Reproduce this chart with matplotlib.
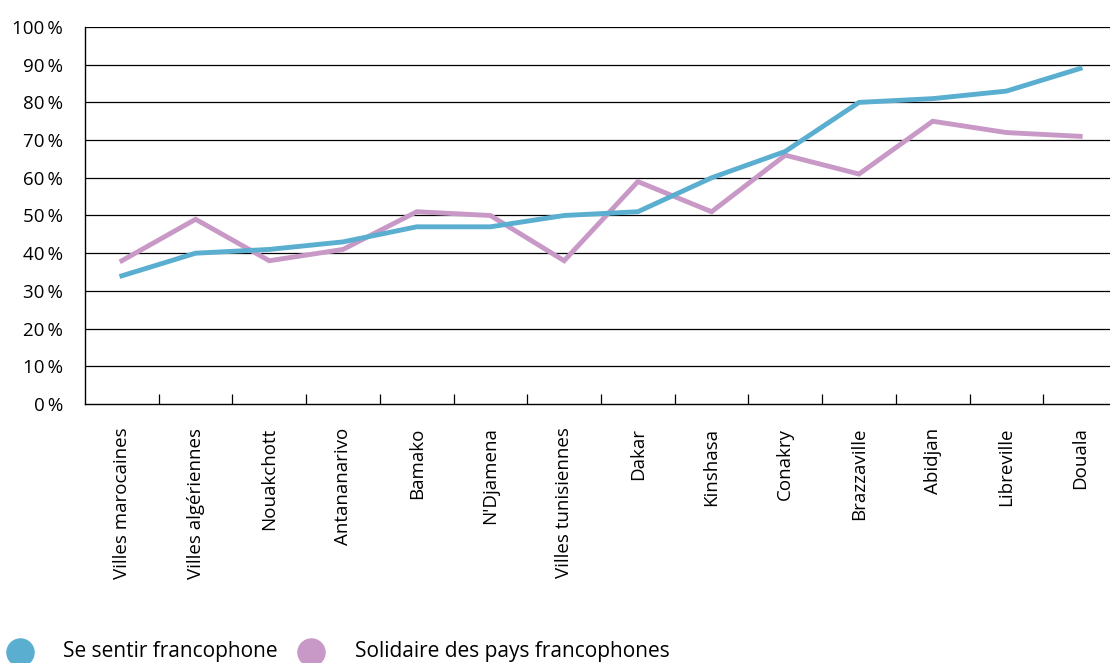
import matplotlib
matplotlib.use("Agg")
import matplotlib.pyplot as plt
from matplotlib.lines import Line2D

plt.rcParams["font.family"] = ["Open Sans", "DejaVu Sans"]

cities = ["Villes marocaines", "Villes algériennes", "Nouakchott", "Antananarivo",
          "Bamako", "N'Djamena", "Villes tunisiennes", "Dakar", "Kinshasa",
          "Conakry", "Brazzaville", "Abidjan", "Libreville", "Douala"]
se_sentir = [34, 40, 41, 43, 47, 47, 50, 51, 60, 67, 80, 81, 83, 89]
solidaire = [38, 49, 38, 41, 51, 50, 38, 59, 51, 66, 61, 75, 72, 71]
yticks = list(range(0, 101, 10))
series_names = ["Se sentir francophone", "Solidaire des pays francophones"]

blue = "#5aaed0"
pink = "#c898c6"

W, H = 1110, 663
fig = plt.figure(figsize=(W / 100, H / 100), dpi=100)
ax = fig.add_axes([85 / W, 1 - 404 / H, 1032 / W, 377 / H])

x = list(range(len(cities)))
ax.plot(x, solidaire, color=pink, lw=3.5, solid_joinstyle="miter", zorder=3)
ax.plot(x, se_sentir, color=blue, lw=3.5, solid_joinstyle="miter", zorder=4)

ax.set_ylim(0, 100)
ax.set_xlim(-0.5, len(cities) - 0.5)
ax.set_yticks(yticks)
ax.set_yticklabels([f"{v}\u2009%" for v in yticks], fontsize=13.5)
for v in yticks[1:]:
    ax.axhline(v, color="black", lw=0.9, zorder=1)

# boundary ticks between categories, pointing up into the plot
ax.set_xticks([i + 0.5 for i in x[:-1]])
ax.set_xticklabels([])
ax.tick_params(axis="x", direction="in", length=7, width=0.9, colors="black")
ax.tick_params(axis="y", length=0, pad=16)
ax.set_xticks(x, minor=True)
ax.set_xticklabels(cities, minor=True, rotation=90, fontsize=13.5)
ax.tick_params(axis="x", which="minor", length=0, pad=17)

for s in ["top", "right"]:
    ax.spines[s].set_visible(False)
for s in ["left", "bottom"]:
    ax.spines[s].set_linewidth(1.0)

# legend at the bottom
ly = 1 - 652 / H
for cx, tx, col, name in [(20, 63, blue, series_names[0]),
                          (311, 355, pink, series_names[1])]:
    fig.add_artist(Line2D([cx / W], [ly], transform=fig.transFigure, marker="o",
                          ls="", color=col, markersize=19.5))
    fig.text(tx / W, ly, name, fontsize=15, va="center", ha="left")

fig.savefig("out.png", dpi=100)
